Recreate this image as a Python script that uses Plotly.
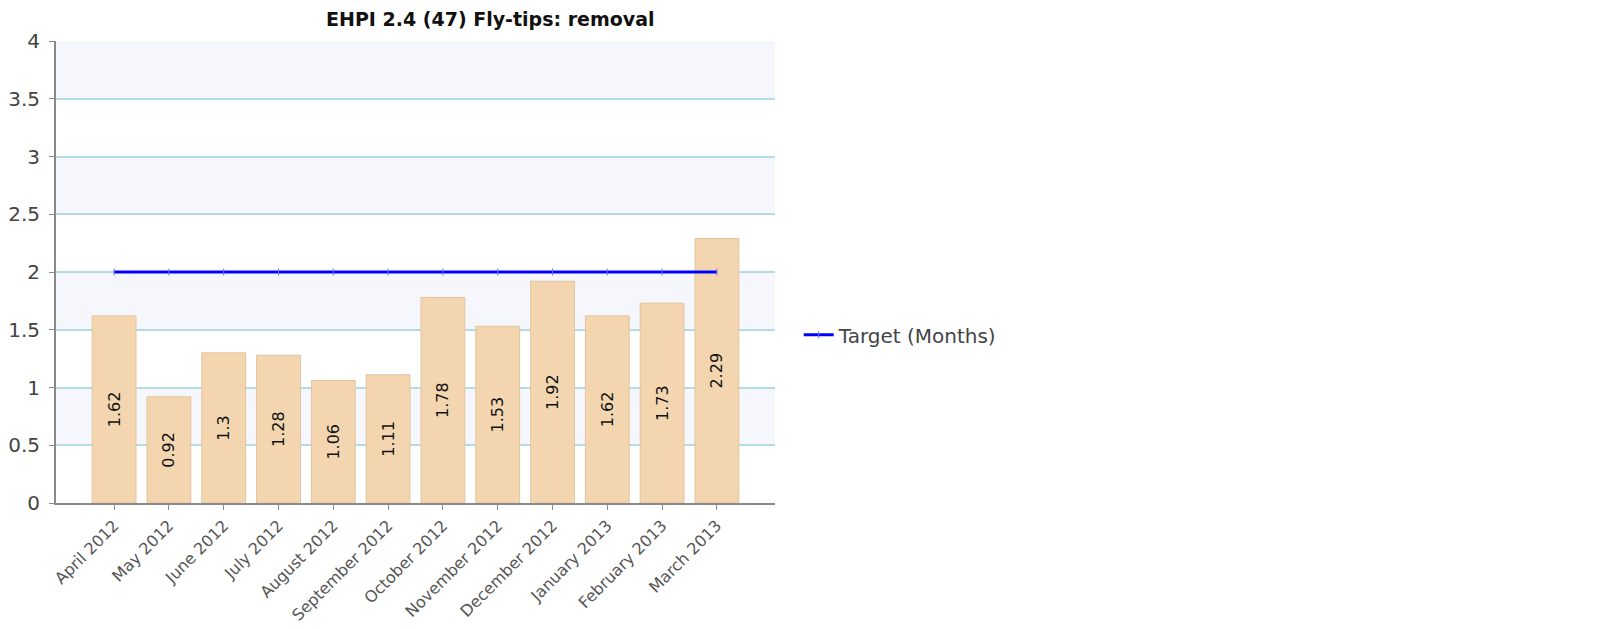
import plotly.graph_objects as go

# values
months = ['April 2012', 'May 2012', 'June 2012', 'July 2012', 'August 2012', 'September 2012',
          'October 2012', 'November 2012', 'December 2012', 'January 2013', 'February 2013', 'March 2013']
actual = [1.62, 0.92, 1.3, 1.28, 1.06, 1.11, 1.78, 1.53, 1.92, 1.62, 1.73, 2.29]
target = [2, 2, 2, 2, 2, 2, 2, 2, 2, 2, 2, 2]
y_ticks = [0, 0.5, 1, 1.5, 2, 2.5, 3, 3.5, 4]

font = 'DejaVu Sans'

fig = go.Figure()

fig.add_trace(go.Bar(
    x=months, y=actual, name='Actual',
    text=[str(v) for v in actual],
    textposition='inside', insidetextanchor='middle', textangle=-90,
    textfont=dict(family=font, size=16, color='#111111'),
    marker=dict(color='#f3d6b0', line=dict(color='#e3c49c', width=1)),
    showlegend=False,
))

fig.add_trace(go.Scatter(
    x=months, y=target, name='Target (Months)', mode='lines+markers',
    line=dict(color='#0000ff', width=3),
    marker=dict(symbol='line-ns', size=5, line=dict(color='#7070ff', width=1)),
))

# alternating light bands behind the grid
shapes = []
for lo in [0.5, 1.5, 2.5, 3.5]:
    shapes.append(dict(type='rect', xref='paper', yref='y', x0=0, x1=1, y0=lo, y1=lo + 0.5,
                       fillcolor='#f5f7fd', line=dict(width=0), layer='below'))

# page body has an 8px margin, so the figure is drawn 8px in from the top-left
fig.update_layout(
    width=1590, height=621,
    margin=dict(l=48, r=823, t=33, b=126),
    paper_bgcolor='white', plot_bgcolor='white',
    font=dict(family=font, color='#444444'),
    bargap=0.2,
    shapes=shapes,
    title=dict(text='<b>EHPI 2.4 (47) Fly-tips: removal</b>', x=0.604, xref='paper', xanchor='center',
               y=0.981, yanchor='middle',
               font=dict(family=font, size=19, color='#111111')),
    legend=dict(x=1.033, xanchor='left', y=0.364, yanchor='middle', bgcolor='rgba(0,0,0,0)',
                font=dict(family=font, size=20, color='#444444')),
    xaxis=dict(range=[-1.06, 12.06], showgrid=False, tickangle=-45, automargin=False,
               tickfont=dict(family=font, size=16, color='#555555'),
               showline=True, linecolor='#8a8a8a', linewidth=2,
               ticks='outside', ticklen=5, tickcolor='#8a8a8a'),
    yaxis=dict(range=[0, 4], tickvals=y_ticks, showgrid=True, gridcolor='#b3dde6', gridwidth=2,
               zeroline=False, automargin=False, tickfont=dict(family=font, size=20, color='#444444'),
               showline=True, linecolor='#8a8a8a', linewidth=2, ticklabelstandoff=5,
               ticks='outside', ticklen=5, tickcolor='#8a8a8a'),
)

fig.write_html('out.html')
